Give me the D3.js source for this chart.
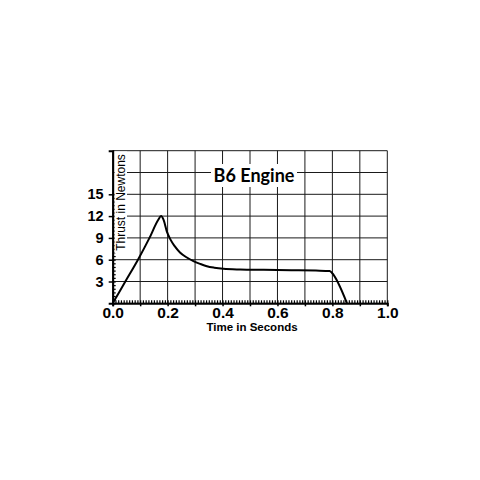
<!DOCTYPE html>
<html>
<head>
<meta charset="utf-8">
<script src="https://cdn.jsdelivr.net/npm/d3@7"></script>
<style>
  body { margin: 0; background: #fff; }
  svg { display: block; }
</style>
</head>
<body>
<div id="chart"></div>
<script>
// Thrust curve: time (s) and thrust (N)
const times  = [0, 0.046, 0.092, 0.134, 0.166, 0.176, 0.186, 0.197, 0.21, 0.225, 0.245, 0.27, 0.294, 0.32, 0.343, 0.37, 0.403, 0.464, 0.55, 0.65, 0.74, 0.79, 0.798, 0.853];
const thrust = [0, 3.0, 6.0, 9.0, 11.5, 12.0, 11.4, 9.9, 8.8, 7.9, 7.0, 6.3, 5.8, 5.4, 5.1, 4.9, 4.75, 4.65, 4.6, 4.55, 4.5, 4.45, 4.2, 0];

const xTicks = [0, 0.2, 0.4, 0.6, 0.8, 1.0];
const yTicks = [3, 6, 9, 12, 15];
const xGrid = d3.range(0, 1.0001, 0.1);
const yGrid = d3.range(0, 21.0001, 3);

const width = 480, height = 480;
const x0 = 112.7, x1 = 387.3, y0 = 303.3, y1 = 150.7;

const svg = d3.select("#chart")
  .append("svg")
  .attr("width", width)
  .attr("height", height);

const x = d3.scaleLinear().domain([0, 1]).range([x0, x1]);
const y = d3.scaleLinear().domain([0, 21]).range([y0, y1]);

// grid
svg.append("g")
  .selectAll("line.v")
  .data(xGrid)
  .enter().append("line")
  .attr("x1", d => x(d)).attr("x2", d => x(d))
  .attr("y1", y0).attr("y2", y1)
  .attr("stroke", "#1a1a1a").attr("stroke-width", 1);

svg.append("g")
  .selectAll("line.h")
  .data(yGrid)
  .enter().append("line")
  .attr("x1", x0).attr("x2", x1)
  .attr("y1", d => y(d)).attr("y2", d => y(d))
  .attr("stroke", "#1a1a1a").attr("stroke-width", 1);

// minor ticks (inside)
svg.append("g")
  .attr("transform", `translate(0,${y0})`)
  .call(d3.axisBottom(x).tickValues(d3.range(0, 1.0001, 0.01)).tickSize(-3).tickFormat(""))
  .call(g => g.select(".domain").remove())
  .call(g => g.selectAll("line").attr("stroke-width", 1.2));

svg.append("g")
  .attr("transform", `translate(${x0},0)`)
  .call(d3.axisLeft(y).tickValues(d3.range(0, 15.0001, 0.5)).tickSize(-3).tickFormat(""))
  .call(g => g.select(".domain").remove())
  .call(g => g.selectAll("line").attr("stroke-width", 1.2));

// white boxes behind the titles inside the plot
svg.append("rect")
  .attr("x", 211).attr("y", 164).attr("width", 86).attr("height", 23)
  .attr("fill", "#fff");
svg.append("rect")
  .attr("x", 114.5).attr("y", 151.5).attr("width", 12.5).attr("height", 102)
  .attr("fill", "#fff");

// major axes
svg.append("g")
  .attr("transform", `translate(0,${y0})`)
  .call(d3.axisBottom(x).tickValues(xGrid).tickSize(3).tickFormat(d => xTicks.some(t => Math.abs(t - d) < 1e-6) ? d3.format(".1f")(d) : "").tickPadding(0.5))
  .call(g => g.select(".domain").attr("stroke-width", 2))
  .call(g => g.selectAll("line").attr("stroke-width", 1.5))
  .call(g => g.selectAll("text")
    .attr("font-family", "Liberation Sans, Arial, sans-serif")
    .attr("font-size", 15.5).attr("font-weight", "bold").attr("fill", "#000"));

svg.append("g")
  .attr("transform", `translate(${x0},0)`)
  .call(d3.axisLeft(y).tickValues(yTicks).tickSize(4).tickPadding(5))
  .call(g => g.select(".domain").attr("stroke-width", 2))
  .call(g => g.selectAll("line").attr("stroke-width", 1.5))
  .call(g => g.selectAll("text")
    .attr("font-family", "Liberation Sans, Arial, sans-serif")
    .attr("font-size", 14.5).attr("font-weight", "bold").attr("fill", "#000"));

// thrust curve
const line = d3.line()
  .x((d, i) => x(times[i]))
  .y(d => y(d))
  .curve(d3.curveMonotoneX);

svg.append("path")
  .datum(thrust)
  .attr("d", line)
  .attr("fill", "none")
  .attr("stroke", "#000")
  .attr("stroke-width", 2);

// titles
svg.append("text")
  .attr("x", 254).attr("y", 182)
  .attr("text-anchor", "middle")
  .attr("font-family", "Lato, sans-serif")
  .attr("font-weight", "bold")
  .attr("font-size", 18)
  .text("B6 Engine");

svg.append("text")
  .attr("transform", "translate(125,202.5) rotate(-90)")
  .attr("text-anchor", "middle")
  .attr("font-family", "Liberation Sans, Arial, sans-serif")
  .attr("font-size", 12)
  .text("Thrust in Newtons");

svg.append("text")
  .attr("x", 252).attr("y", 331)
  .attr("text-anchor", "middle")
  .attr("font-family", "Liberation Sans, Arial, sans-serif")
  .attr("font-weight", "bold")
  .attr("font-size", 11.5)
  .text("Time in Seconds");
</script>
</body>
</html>
